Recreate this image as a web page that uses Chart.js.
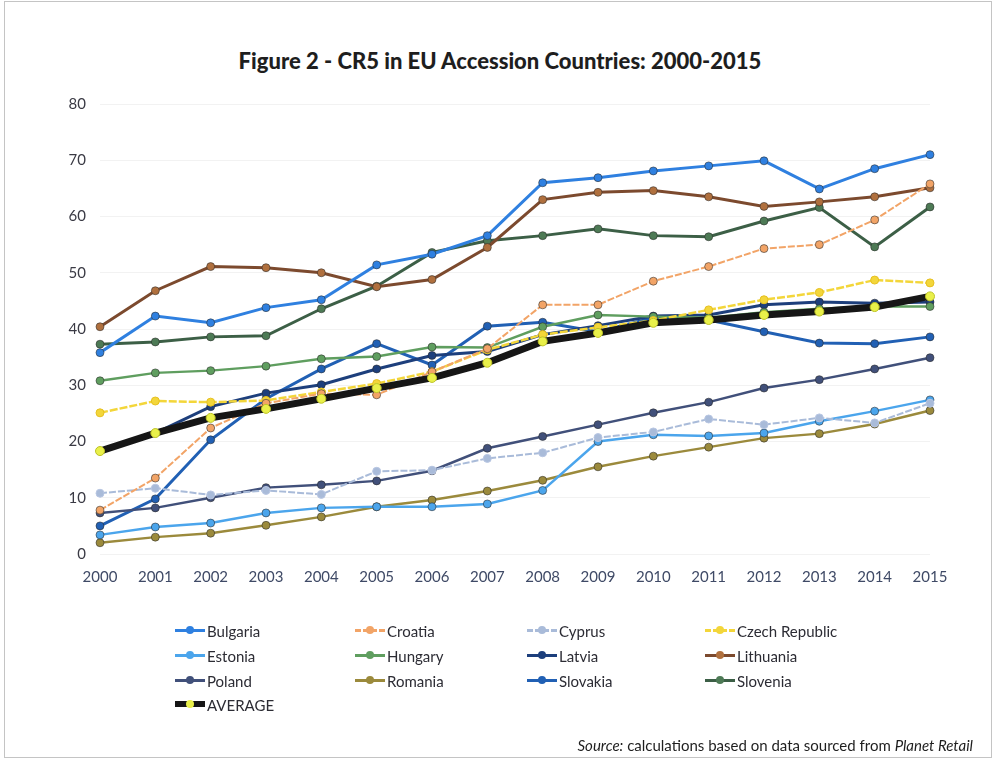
<!DOCTYPE html>
<html>
<head>
<meta charset="utf-8">
<script src="https://cdn.jsdelivr.net/npm/chart.js@4"></script>
<style>
  html, body { margin: 0; padding: 0; background: #fff; }
  #frame {
    position: relative; width: 1000px; height: 764px; overflow: hidden;
    font-family: Lato, "Open Sans", sans-serif;
  }
  #border {
    position: absolute; left: 4px; top: 1px; width: 988px; height: 757px;
    border: 1px solid #c4c4c4; box-sizing: border-box;
  }
  #title {
    position: absolute; left: 0; width: 1000px; top: 47px; text-align: center;
    font-size: 22px; font-weight: 900; color: #1e1e1e;
  }
  #cr5 { position: absolute; left: 0; top: 0; }
  #legend { position: absolute; left: 0; top: 0; width: 1000px; height: 764px; pointer-events: none; }
  .lg-item { position: absolute; height: 20px; display: flex; align-items: center; font-size: 15px; color: #2c2c34; }
  .lg-line { position: relative; width: 30px; height: 0; margin-right: 2px; }
  .lg-dot { position: absolute; left: 11px; top: -4px; width: 8px; height: 8px; border-radius: 50%; }
  #source {
    position: absolute; right: 27px; top: 736px; font-size: 15px; color: #1e1e1e;
  }
</style>
</head>
<body>
<div id="frame">
  <div id="border"></div>
  <div id="title">Figure 2 - CR5 in EU Accession Countries: 2000-2015</div>
  <canvas id="cr5" width="1000" height="600"></canvas>
  <div id="legend"></div>
  <div id="source"><i>Source:</i> calculations based on data sourced from <i>Planet Retail</i></div>
</div>
<script>
// CR5 concentration ratio by country, 2000-2015
const years = ['2000', '2001', '2002', '2003', '2004', '2005', '2006', '2007',
               '2008', '2009', '2010', '2011', '2012', '2013', '2014', '2015'];

const bulgaria  = [35.8, 42.3, 41.1, 43.8, 45.2, 51.4, 53.3, 56.6, 66.0, 66.9, 68.1, 69.0, 69.9, 64.9, 68.5, 71.0];
const croatia   = [7.8, 13.5, 22.4, 26.8, 28.5, 28.3, 32.4, 36.5, 44.3, 44.3, 48.5, 51.1, 54.3, 55.0, 59.4, 65.8];
const cyprus    = [10.8, 11.7, 10.5, 11.3, 10.6, 14.7, 14.9, 17.0, 18.0, 20.7, 21.7, 24.0, 23.0, 24.2, 23.3, 26.8];
const czech     = [25.1, 27.2, 27.0, 27.3, 28.8, 30.3, 32.4, 36.3, 39.0, 40.3, 41.5, 43.4, 45.2, 46.5, 48.7, 48.2];
const estonia   = [3.4, 4.8, 5.5, 7.3, 8.2, 8.4, 8.4, 8.9, 11.3, 20.0, 21.2, 21.0, 21.5, 23.6, 25.4, 27.4];
const hungary   = [30.8, 32.2, 32.6, 33.4, 34.7, 35.1, 36.8, 36.7, 40.4, 42.5, 42.2, 42.0, 43.0, 43.6, 44.0, 44.0];
const latvia    = [18.3, 21.5, 26.2, 28.6, 30.1, 32.9, 35.3, 36.0, 39.0, 40.6, 42.3, 42.5, 44.3, 44.8, 44.6, 44.8];
const lithuania = [40.4, 46.8, 51.1, 50.9, 50.0, 47.5, 48.8, 54.5, 63.0, 64.3, 64.6, 63.5, 61.8, 62.6, 63.5, 65.1];
const poland    = [7.3, 8.2, 10.0, 11.8, 12.3, 13.0, 14.8, 18.8, 20.9, 23.0, 25.1, 27.0, 29.5, 31.0, 32.9, 34.9];
const romania   = [2.0, 3.0, 3.7, 5.1, 6.6, 8.4, 9.6, 11.2, 13.1, 15.5, 17.4, 19.0, 20.6, 21.4, 23.1, 25.5];
const slovakia  = [5.0, 9.8, 20.3, 27.6, 32.9, 37.4, 33.6, 40.5, 41.2, 39.5, 42.0, 41.6, 39.5, 37.5, 37.4, 38.6];
const slovenia  = [37.3, 37.7, 38.6, 38.8, 43.6, 47.6, 53.6, 55.7, 56.6, 57.8, 56.6, 56.4, 59.2, 61.6, 54.6, 61.7];
const average   = [18.3, 21.5, 24.2, 25.8, 27.6, 29.5, 31.3, 34.0, 37.8, 39.3, 41.1, 41.6, 42.5, 43.1, 43.9, 45.8];

const yTicks = [0, 10, 20, 30, 40, 50, 60, 70, 80];

function series(label, data, color, opts) {
  return Object.assign({
    label: label,
    data: data,
    borderColor: color,
    backgroundColor: color,
    pointBackgroundColor: color,
    pointBorderColor: 'rgba(40,40,40,0.55)',
    pointBorderWidth: 1,
    borderWidth: 2.5,
    pointRadius: 4,
    tension: 0,
  }, opts || {});
}

const datasets = [
  series('Bulgaria', bulgaria, '#2f80e0', { borderWidth: 3 }),
  series('Croatia', croatia, '#f2a467', { borderWidth: 2, borderDash: [7, 2] }),
  series('Cyprus', cyprus, '#a9bbd9', { borderWidth: 2, borderDash: [7, 2], pointBorderColor: '#b8c6e2' }),
  series('Czech Republic', czech, '#f3d63a', { borderWidth: 2.5, borderDash: [8, 2], pointBorderColor: '#e6c020' }),
  series('Estonia', estonia, '#4ba5ec', { borderWidth: 2.5 }),
  series('Hungary', hungary, '#5f9e5f', { borderWidth: 2.5 }),
  series('Latvia', latvia, '#1d3f7c', { borderWidth: 3 }),
  series('Lithuania', lithuania, '#7c4a2e', { borderWidth: 3, pointBackgroundColor: '#b0703e' }),
  series('Poland', poland, '#41507a', { borderWidth: 2.5 }),
  series('Romania', romania, '#9b8a3c', { borderWidth: 2.5 }),
  series('Slovakia', slovakia, '#2160b4', { borderWidth: 3 }),
  series('Slovenia', slovenia, '#3c5f46', { borderWidth: 3, pointBackgroundColor: '#4d7a55' }),
  series('AVERAGE', average, '#161616', {
    borderWidth: 7, pointRadius: 4.5, pointBackgroundColor: '#e9f04a',
    pointBorderColor: '#bfc428', order: -1,
  }),
];

const chart = new Chart(document.getElementById('cr5'), {
  type: 'line',
  data: { labels: years, datasets: datasets },
  options: {
    responsive: false,
    animation: false,
    layout: { padding: { left: 60, right: 70, top: 104, bottom: 6 } },
    plugins: {
      legend: { display: false },
      title: { display: false },
      tooltip: { enabled: false },
    },
    scales: {
      x: {
        offset: false,
        border: { display: false },
        grid: { display: false, drawTicks: false },
        ticks: { padding: 14, color: '#3f4a66', font: { family: 'Lato', size: 15 } },
        afterFit(scale) { scale.height = 40; },
      },
      y: {
        min: 0, max: 80,
        border: { display: false },
        grid: { color: 'rgba(0,0,0,0.05)', drawTicks: false },
        afterBuildTicks(scale) { scale.ticks = yTicks.map(v => ({ value: v })); },
        ticks: { padding: 14, color: '#3a3a44', font: { family: 'Lato', size: 15 } },
        afterFit(scale) { scale.width = 40; },
      },
    },
  },
});

// legend laid out as a 4-column grid under the plot
(function buildLegend() {
  const colX = [175, 355, 527, 705];
  const rowY = [621, 646, 671, 695];
  const box = document.getElementById('legend');
  chart.data.datasets.forEach((ds, i) => {
    const item = document.createElement('div');
    item.className = 'lg-item';
    item.style.left = colX[i % 4] + 'px';
    item.style.top = rowY[Math.floor(i / 4)] + 'px';

    const line = document.createElement('span');
    line.className = 'lg-line';
    const w = ds.label === 'AVERAGE' ? 6 : 3;
    line.style.borderTop = w + 'px ' + (ds.borderDash ? 'dashed ' : 'solid ') + ds.borderColor;
    line.style.marginTop = (-w / 2) + 'px';

    const dot = document.createElement('span');
    dot.className = 'lg-dot';
    dot.style.background = ds.pointBackgroundColor;
    dot.style.top = (-4 - w / 2) + 'px';
    line.appendChild(dot);

    const text = document.createElement('span');
    text.textContent = ds.label;

    item.appendChild(line);
    item.appendChild(text);
    box.appendChild(item);
  });
})();
</script>
</body>
</html>
